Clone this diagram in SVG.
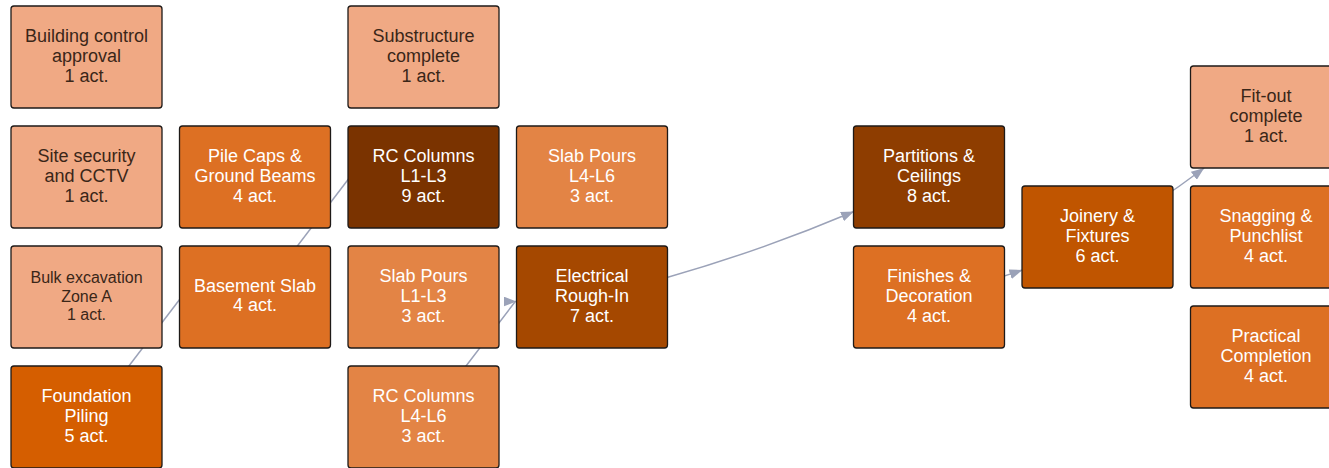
<svg xmlns="http://www.w3.org/2000/svg" width="1329" height="468" viewBox="0 0 1329 468">
<style>
.box{stroke:#1e1a18;stroke-width:1.3}
.t{font-family:"Liberation Sans",Arial,Helvetica,sans-serif;font-size:18px;text-anchor:middle}
.sm{font-size:16px}
.dk{fill:#3a2618}
.lt{fill:#ffffff}
.c1{fill:#F0A984}
.c3{fill:#E38445}
.c4{fill:#DD7023}
.c5{fill:#D55E00}
.c6{fill:#C05500}
.c7{fill:#A54800}
.c8{fill:#8E3D00}
.c9{fill:#7A3300}
.edge{fill:none;stroke:#9ba2b8;stroke-width:1.5}
</style>
<defs>
<marker id="arrow" markerUnits="userSpaceOnUse" markerWidth="13" markerHeight="10" viewBox="0 0 13 10" refX="13" refY="5" orient="auto">
<path d="M0,0 L13,5 L0,10 z" fill="#9ba2b8"/>
</marker>
</defs>
<rect width="1329" height="468" fill="#ffffff"/>
<g id="connectors">
<path class="edge" d="M90,417 L181.5,297"/>
<path class="edge" d="M258.5,297 L350,177"/>
<path class="edge" d="M427,417 L515.3,301.5 H516.5" marker-end="url(#arrow)"/>
<path class="edge" d="M592,297 Q726.8,265.3 854,211.5" marker-end="url(#arrow)"/>
<path class="edge" d="M929,297 Q976.9,285.9 1022.4,270" marker-end="url(#arrow)"/>
<path class="edge" d="M1098.5,237 Q1153.9,206 1204.2,168" marker-end="url(#arrow)"/>
</g>
<g id="n-building-control">
<rect class="box c1" x="11" y="6" width="151" height="102" rx="3"/>
<text class="t dk" x="86.5" y="42">Building control</text>
<text class="t dk" x="86.5" y="62">approval</text>
<text class="t dk" x="86.5" y="82">1 act.</text>
</g>
<g id="n-site-security">
<rect class="box c1" x="11" y="126" width="151" height="102" rx="3"/>
<text class="t dk" x="86.5" y="162">Site security</text>
<text class="t dk" x="86.5" y="182">and CCTV</text>
<text class="t dk" x="86.5" y="202">1 act.</text>
</g>
<g id="n-bulk-excavation">
<rect class="box c1" x="11" y="246" width="151" height="102" rx="3"/>
<text class="t sm dk" x="86.5" y="283">Bulk excavation</text>
<text class="t sm dk" x="86.5" y="301.5">Zone A</text>
<text class="t sm dk" x="86.5" y="320">1 act.</text>
</g>
<g id="n-foundation-piling">
<rect class="box c5" x="11" y="366" width="151" height="102" rx="3"/>
<text class="t lt" x="86.5" y="402">Foundation</text>
<text class="t lt" x="86.5" y="422">Piling</text>
<text class="t lt" x="86.5" y="442">5 act.</text>
</g>
<g id="n-pile-caps">
<rect class="box c4" x="179.5" y="126" width="151" height="102" rx="3"/>
<text class="t lt" x="255" y="162">Pile Caps &amp;</text>
<text class="t lt" x="255" y="182">Ground Beams</text>
<text class="t lt" x="255" y="202">4 act.</text>
</g>
<g id="n-basement-slab">
<rect class="box c4" x="179.5" y="246" width="151" height="102" rx="3"/>
<text class="t lt" x="255" y="292">Basement Slab</text>
<text class="t lt" x="255" y="311">4 act.</text>
</g>
<g id="n-substructure-complete">
<rect class="box c1" x="348" y="6" width="151" height="102" rx="3"/>
<text class="t dk" x="423.5" y="42">Substructure</text>
<text class="t dk" x="423.5" y="62">complete</text>
<text class="t dk" x="423.5" y="82">1 act.</text>
</g>
<g id="n-rc-columns-l1-l3">
<rect class="box c9" x="348" y="126" width="151" height="102" rx="3"/>
<text class="t lt" x="423.5" y="162">RC Columns</text>
<text class="t lt" x="423.5" y="182">L1-L3</text>
<text class="t lt" x="423.5" y="202">9 act.</text>
</g>
<g id="n-slab-pours-l1-l3">
<rect class="box c3" x="348" y="246" width="151" height="102" rx="3"/>
<text class="t lt" x="423.5" y="282">Slab Pours</text>
<text class="t lt" x="423.5" y="302">L1-L3</text>
<text class="t lt" x="423.5" y="322">3 act.</text>
</g>
<g id="n-rc-columns-l4-l6">
<rect class="box c3" x="348" y="366" width="151" height="102" rx="3"/>
<text class="t lt" x="423.5" y="402">RC Columns</text>
<text class="t lt" x="423.5" y="422">L4-L6</text>
<text class="t lt" x="423.5" y="442">3 act.</text>
</g>
<g id="n-slab-pours-l4-l6">
<rect class="box c3" x="516.5" y="126" width="151" height="102" rx="3"/>
<text class="t lt" x="592" y="162">Slab Pours</text>
<text class="t lt" x="592" y="182">L4-L6</text>
<text class="t lt" x="592" y="202">3 act.</text>
</g>
<g id="n-electrical-rough-in">
<rect class="box c7" x="516.5" y="246" width="151" height="102" rx="3"/>
<text class="t lt" x="592" y="282">Electrical</text>
<text class="t lt" x="592" y="302">Rough-In</text>
<text class="t lt" x="592" y="322">7 act.</text>
</g>
<g id="n-partitions-ceilings">
<rect class="box c8" x="853.5" y="126" width="151" height="102" rx="3"/>
<text class="t lt" x="929" y="162">Partitions &amp;</text>
<text class="t lt" x="929" y="182">Ceilings</text>
<text class="t lt" x="929" y="202">8 act.</text>
</g>
<g id="n-finishes-decoration">
<rect class="box c4" x="853.5" y="246" width="151" height="102" rx="3"/>
<text class="t lt" x="929" y="282">Finishes &amp;</text>
<text class="t lt" x="929" y="302">Decoration</text>
<text class="t lt" x="929" y="322">4 act.</text>
</g>
<g id="n-joinery-fixtures">
<rect class="box c6" x="1022" y="186" width="151" height="102" rx="3"/>
<text class="t lt" x="1097.5" y="222">Joinery &amp;</text>
<text class="t lt" x="1097.5" y="242">Fixtures</text>
<text class="t lt" x="1097.5" y="262">6 act.</text>
</g>
<g id="n-fit-out-complete">
<rect class="box c1" x="1190.5" y="66" width="151" height="102" rx="3"/>
<text class="t dk" x="1266" y="102">Fit-out</text>
<text class="t dk" x="1266" y="122">complete</text>
<text class="t dk" x="1266" y="142">1 act.</text>
</g>
<g id="n-snagging-punchlist">
<rect class="box c4" x="1190.5" y="186" width="151" height="102" rx="3"/>
<text class="t lt" x="1266" y="222">Snagging &amp;</text>
<text class="t lt" x="1266" y="242">Punchlist</text>
<text class="t lt" x="1266" y="262">4 act.</text>
</g>
<g id="n-practical-completion">
<rect class="box c4" x="1190.5" y="306" width="151" height="102" rx="3"/>
<text class="t lt" x="1266" y="342">Practical</text>
<text class="t lt" x="1266" y="362">Completion</text>
<text class="t lt" x="1266" y="382">4 act.</text>
</g>
</svg>
